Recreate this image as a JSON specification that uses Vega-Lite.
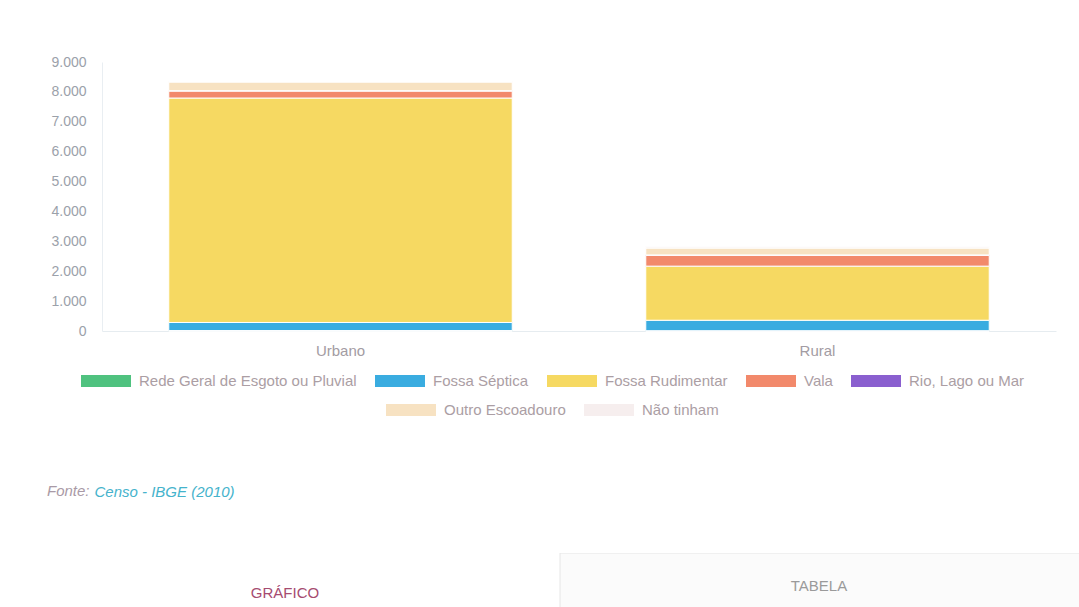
{
  "$schema": "https://vega.github.io/schema/vega-lite/v6.json",
  "background": "white",
  "padding": {"left": 47, "top": 55, "right": 0, "bottom": 0},
  "config": {
    "view": {"stroke": null},
    "font": "Liberation Sans"
  },
  "datasets": {
    "esgotamento": [
      {"situacao": "Urbano", "tipo": "Rede Geral de Esgoto ou Pluvial", "ordem": 1, "domicilios": 15},
      {"situacao": "Urbano", "tipo": "Fossa Séptica", "ordem": 2, "domicilios": 270},
      {"situacao": "Urbano", "tipo": "Fossa Rudimentar", "ordem": 3, "domicilios": 7510},
      {"situacao": "Urbano", "tipo": "Vala", "ordem": 4, "domicilios": 235},
      {"situacao": "Urbano", "tipo": "Rio, Lago ou Mar", "ordem": 5, "domicilios": 10},
      {"situacao": "Urbano", "tipo": "Outro Escoadouro", "ordem": 6, "domicilios": 290},
      {"situacao": "Urbano", "tipo": "Não tinham", "ordem": 7, "domicilios": 15},
      {"situacao": "Rural", "tipo": "Rede Geral de Esgoto ou Pluvial", "ordem": 1, "domicilios": 10},
      {"situacao": "Rural", "tipo": "Fossa Séptica", "ordem": 2, "domicilios": 350},
      {"situacao": "Rural", "tipo": "Fossa Rudimentar", "ordem": 3, "domicilios": 1810},
      {"situacao": "Rural", "tipo": "Vala", "ordem": 4, "domicilios": 360},
      {"situacao": "Rural", "tipo": "Rio, Lago ou Mar", "ordem": 5, "domicilios": 15},
      {"situacao": "Rural", "tipo": "Outro Escoadouro", "ordem": 6, "domicilios": 230},
      {"situacao": "Rural", "tipo": "Não tinham", "ordem": 7, "domicilios": 40}
    ],
    "abas": [
      {"aba": "GRÁFICO"},
      {"aba": "TABELA"}
    ]
  },
  "spacing": 126,
  "vconcat": [
    {
      "width": 954,
      "height": 269,
      "data": {"name": "esgotamento"},
      "encoding": {
        "x": {
          "field": "situacao",
          "type": "nominal",
          "sort": ["Urbano", "Rural"],
          "scale": {"paddingInner": 0.28, "paddingOuter": 0.14},
          "axis": {
            "title": null,
            "labelAngle": 0,
            "ticks": false,
            "domainColor": "#e6ecf0",
            "labelColor": "#a39ca3",
            "labelFontSize": 15,
            "labelPadding": 12
          }
        },
        "y": {
          "aggregate": "sum",
          "field": "domicilios",
          "type": "quantitative",
          "stack": "zero",
          "scale": {"domain": [0, 9000], "nice": false},
          "axis": {
            "title": null,
            "values": [0, 1000, 2000, 3000, 4000, 5000, 6000, 7000, 8000, 9000],
            "labelExpr": "replace(format(datum.value, ','), ',', '.')",
            "grid": false,
            "ticks": false,
            "domainColor": "#e9eef2",
            "labelColor": "#9ba1aa",
            "labelFontSize": 14,
            "labelPadding": 16
          }
        },
        "order": {"field": "ordem", "type": "quantitative"}
      },
      "layer": [
        {
          "mark": {"type": "bar", "stroke": "white", "strokeWidth": 1},
          "encoding": {
            "color": {
              "field": "tipo",
              "type": "nominal",
              "scale": {
                "domain": ["Rede Geral de Esgoto ou Pluvial", "Fossa Séptica", "Fossa Rudimentar", "Vala", "Rio, Lago ou Mar", "Outro Escoadouro", "Não tinham"],
                "range": ["#4fc27f", "#3aace0", "#f6d962", "#f2896b", "#8a5fcf", "#f7e2c2", "#f6eeee"]
              },
              "legend": {
                "title": null,
                "values": ["Rede Geral de Esgoto ou Pluvial", "Fossa Séptica", "Fossa Rudimentar", "Vala", "Rio, Lago ou Mar"],
                "orient": "none",
                "legendX": -21,
                "legendY": 294,
                "direction": "horizontal",
                "columns": 5,
                "columnPadding": 18,
                "symbolType": "M-1,-0.24H1V0.24H-1Z",
                "symbolSize": 2500,
                "symbolStrokeWidth": 0,
                "labelOffset": 8,
                "labelFontSize": 15,
                "labelColor": "#ab9ea4",
                "labelLimit": 400
              }
            }
          }
        },
        {
          "mark": {"type": "bar", "stroke": "white", "strokeWidth": 1},
          "encoding": {
            "fill": {
              "field": "tipo",
              "type": "nominal",
              "scale": {
                "domain": ["Não tinham", "Outro Escoadouro", "Rio, Lago ou Mar", "Vala", "Fossa Rudimentar", "Fossa Séptica", "Rede Geral de Esgoto ou Pluvial"],
                "range": ["#f6eeee", "#f7e2c2", "#8a5fcf", "#f2896b", "#f6d962", "#3aace0", "#4fc27f"]
              },
              "legend": {
                "title": null,
                "values": ["Outro Escoadouro", "Não tinham"],
                "orient": "none",
                "legendX": 284,
                "legendY": 323,
                "direction": "horizontal",
                "columns": 2,
                "columnPadding": 18,
                "symbolType": "M-1,-0.24H1V0.24H-1Z",
                "symbolSize": 2500,
                "symbolStrokeWidth": 0,
                "labelOffset": 8,
                "labelFontSize": 15,
                "labelColor": "#ab9ea4",
                "labelLimit": 400
              }
            }
          }
        }
      ]
    },
    {
      "width": 978,
      "height": 55,
      "data": {"name": "abas"},
      "title": {
        "text": "Fonte:",
        "anchor": "start",
        "offset": -15,
        "dx": -47,
        "fontSize": 15,
        "fontStyle": "italic",
        "fontWeight": "normal",
        "color": "#a99aa6"
      },
      "encoding": {
        "x": {
          "field": "aba",
          "type": "nominal",
          "scale": {"domain": ["GRÁFICO", "TABELA"], "range": [-92, 1008], "paddingInner": 0, "paddingOuter": 0},
          "axis": {
            "orient": "top",
            "labels": false,
            "ticks": false,
            "domain": false,
            "title": "Censo - IBGE (2010)",
            "titleX": -8,
            "titleY": -62,
            "titleAlign": "left",
            "titleAnchor": "start",
            "titleBaseline": "middle",
            "titleFontSize": 15,
            "titleFontStyle": "italic",
            "titleFontWeight": "normal",
            "titleColor": "#45b3cc"
          }
        }
      },
      "layer": [
        {
          "transform": [{"filter": "datum.aba === 'TABELA'"}],
          "mark": {"type": "rect", "fill": "#fbfbfb", "stroke": "#e6e6e6", "strokeWidth": 1, "clip": true}
        },
        {
          "transform": [{"filter": "datum.aba === 'GRÁFICO'"}],
          "mark": {"type": "text", "text": "GRÁFICO", "fontSize": 15, "color": "#a64b70", "dy": 12}
        },
        {
          "transform": [{"filter": "datum.aba === 'TABELA'"}],
          "mark": {"type": "text", "text": "TABELA", "fontSize": 15, "color": "#9a9a9a", "dx": -16, "dy": 5}
        }
      ]
    }
  ]
}
